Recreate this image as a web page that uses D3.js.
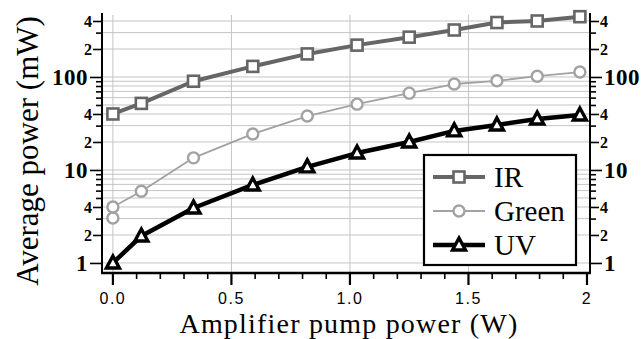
<!DOCTYPE html>
<html>
<head>
<meta charset="utf-8">
<script src="https://cdn.jsdelivr.net/npm/d3@7"></script>
<style>
  body { margin: 0; background: #fff; }
  svg { display: block; }
</style>
</head>
<body>
<div id="app"></div>
<script>
// pump power (W) at each measurement
const pumpIR = [0, 0.12, 0.34, 0.59, 0.82, 1.03, 1.25, 1.44, 1.62, 1.79, 1.97];
const pumpGreen = [0, 0, 0.12, 0.34, 0.59, 0.82, 1.03, 1.25, 1.44, 1.62, 1.79, 1.97];
const pumpUV = [0, 0.12, 0.34, 0.59, 0.82, 1.03, 1.25, 1.44, 1.62, 1.79, 1.97];

// average power (mW)
const powerIR = [40, 52, 90, 130, 177, 220, 268, 320, 385, 400, 445];
const powerGreen = [3.05, 4.0, 5.9, 13.5, 24.4, 38, 51, 67, 84, 91, 102, 113];
const powerUV = [1.0, 1.95, 3.9, 6.9, 10.8, 15.2, 20, 26.3, 30.5, 35.3, 39];

const seriesNames = ["IR", "Green", "UV"];
const xTicks = [0, 0.5, 1.0, 1.5, 2];
const xTickLabels = ["0.0", "0.5", "1.0", "1.5", "2"];
const gridX = [0, 0.5, 1.0, 1.5];

const W = 643, H = 339;
const plot = {left: 102, right: 590, top: 15, bottom: 273};

const svg = d3.select("#app").append("svg")
    .attr("width", W)
    .attr("height", H);

const x = d3.scaleLinear()
    .domain([-0.046, 2.0127])
    .range([plot.left, plot.right]);

const y = d3.scaleLog()
    .domain([0.78, 464])
    .range([plot.bottom, plot.top]);

// every 1..9 per decade inside the domain
const yAll = [];
for (const dec of [1, 10, 100]) {
    for (let k = 1; k <= 9; k++) {
        const v = k * dec;
        if (v <= 464) yAll.push(v);
    }
}
const isMajor = v => [1, 10, 100].includes(v);
const isLabeled = v => { const m = v / Math.pow(10, Math.floor(Math.log10(v) + 1e-9)); return m === 1 || m === 2 || m === 4; };
const labelOf = v => isMajor(v) ? String(v) : String(Math.round(v / Math.pow(10, Math.floor(Math.log10(v) + 1e-9))));

// grid
const grid = svg.append("g").attr("stroke", "#c4c4c4").attr("stroke-width", 1);
grid.selectAll("line.h")
    .data(yAll)
    .join("line")
    .attr("class", "h")
    .attr("x1", plot.left).attr("x2", plot.right)
    .attr("y1", d => y(d)).attr("y2", d => y(d));
grid.selectAll("line.v")
    .data(gridX)
    .join("line")
    .attr("class", "v")
    .attr("x1", d => x(d)).attr("x2", d => x(d))
    .attr("y1", plot.top).attr("y2", plot.bottom);

// left axis
const yLeft = svg.append("g")
    .attr("transform", `translate(${plot.left},0)`)
    .call(d3.axisLeft(y).tickValues(yAll).tickFormat(d => isLabeled(d) ? labelOf(d) : "").tickSizeOuter(0));
// right axis
const yRight = svg.append("g")
    .attr("transform", `translate(${plot.right},0)`)
    .call(d3.axisRight(y).tickValues(yAll).tickFormat(d => isLabeled(d) ? labelOf(d) : "").tickSizeOuter(0));

function styleY(g, dir) {
    g.select(".domain").attr("stroke", "#000").attr("stroke-width", 2)
        .attr("d", `M0,${plot.top - 2}V${plot.bottom}`);
    g.selectAll(".tick line")
        .attr("stroke", "#000")
        .attr("stroke-width", 1.6)
        .attr("x2", d => dir * (isMajor(d) ? 12 : isLabeled(d) ? 9 : 6));
    g.selectAll(".tick text")
        .attr("x", d => dir * (isMajor(d) ? 14 : 10))
        .attr("fill", "#000")
        .style("font-family", "'Liberation Serif', 'Times New Roman', serif")
        .style("font-weight", "bold")
        .style("font-size", d => isMajor(d) ? "23px" : "16px")
        .style("letter-spacing", d => isMajor(d) ? "0.5px" : "0px");
}
styleY(yLeft, -1);
styleY(yRight, 1);

// x axis
const xMinor = d3.range(0, 21).map(i => i / 10);
const xAxisG = svg.append("g")
    .attr("transform", `translate(0,${plot.bottom})`);
xAxisG.append("line")
    .attr("x1", plot.left - 1).attr("x2", plot.right + 1)
    .attr("stroke", "#000").attr("stroke-width", 2.4);
xAxisG.selectAll("line.minor")
    .data(xMinor)
    .join("line")
    .attr("class", "minor")
    .attr("x1", d => x(d)).attr("x2", d => x(d))
    .attr("y1", 0)
    .attr("y2", d => xTicks.some(t => Math.abs(t - d) < 1e-6) ? 12 : 6)
    .attr("stroke", "#000")
    .attr("stroke-width", d => xTicks.some(t => Math.abs(t - d) < 1e-6) ? 2.2 : 1.6);
xAxisG.selectAll("text")
    .data(xTicks)
    .join("text")
    .attr("x", d => x(d))
    .attr("y", 31)
    .attr("text-anchor", "middle")
    .style("font-family", "'Liberation Sans', Arial, sans-serif")
    .style("font-size", "16px")
    .style("letter-spacing", "1.5px")
    .text((d, i) => xTickLabels[i]);

// axis titles
svg.append("text")
    .attr("x", 349)
    .attr("y", 332.5)
    .attr("text-anchor", "middle")
    .style("font-family", "'Liberation Serif', 'Times New Roman', serif")
    .style("font-size", "28px")
    .style("letter-spacing", "1.2px")
    .text("Amplifier pump power (W)");

svg.append("text")
    .attr("transform", "translate(38,151) rotate(-90)")
    .attr("text-anchor", "middle")
    .style("font-family", "'Liberation Serif', 'Times New Roman', serif")
    .style("font-size", "31px")
    .text("Average power (mW)");

// series
const series = [
    {name: seriesNames[0], xs: pumpIR, ys: powerIR, color: "#666666", width: 4, marker: "square"},
    {name: seriesNames[1], xs: pumpGreen, ys: powerGreen, color: "#a2a2a2", width: 1.8, marker: "circle"},
    {name: seriesNames[2], xs: pumpUV, ys: powerUV, color: "#000000", width: 4.5, marker: "triangle"}
];

const line = d3.line().x(d => x(d[0])).y(d => y(d[1]));

function drawMarker(g, type, color) {
    if (type === "square") {
        g.append("rect").attr("x", -5.5).attr("y", -5.5).attr("width", 11).attr("height", 11)
            .attr("fill", "#fff").attr("stroke", color).attr("stroke-width", 2.6);
    } else if (type === "circle") {
        g.append("circle").attr("r", 5.5)
            .attr("fill", "#fff").attr("stroke", color).attr("stroke-width", 2.4);
    } else {
        g.append("path").attr("d", "M0,-7L6.5,5L-6.5,5Z")
            .attr("fill", "#fff").attr("stroke", color).attr("stroke-width", 3.4)
            .attr("stroke-linejoin", "miter");
    }
}

for (const s of series) {
    const pts = s.xs.map((v, i) => [v, s.ys[i]]);
    svg.append("path")
        .datum(pts)
        .attr("fill", "none")
        .attr("stroke", s.color)
        .attr("stroke-width", s.width)
        .attr("stroke-linejoin", "round")
        .attr("d", line);
    svg.append("g")
        .selectAll("g")
        .data(pts)
        .join("g")
        .attr("transform", d => `translate(${x(d[0])},${y(d[1])})`)
        .each(function() { drawMarker(d3.select(this), s.marker, s.color); });
}

// legend
const legend = svg.append("g");
legend.append("rect")
    .attr("x", 424).attr("y", 155)
    .attr("width", 152).attr("height", 110)
    .attr("fill", "#fff")
    .attr("stroke", "#000")
    .attr("stroke-width", 2.2);
const legendY = [177, 211, 245];
series.forEach((s, i) => {
    const g = legend.append("g").attr("transform", `translate(0,${legendY[i]})`);
    g.append("line").attr("x1", 433).attr("x2", 485)
        .attr("stroke", s.color).attr("stroke-width", s.width);
    const m = g.append("g").attr("transform", "translate(459,0)");
    drawMarker(m, s.marker, s.color);
    g.append("text")
        .attr("x", 494).attr("y", 10)
        .style("font-family", "'Liberation Serif', 'Times New Roman', serif")
        .style("font-size", "29px")
        .text(s.name);
});
</script>
</body>
</html>
